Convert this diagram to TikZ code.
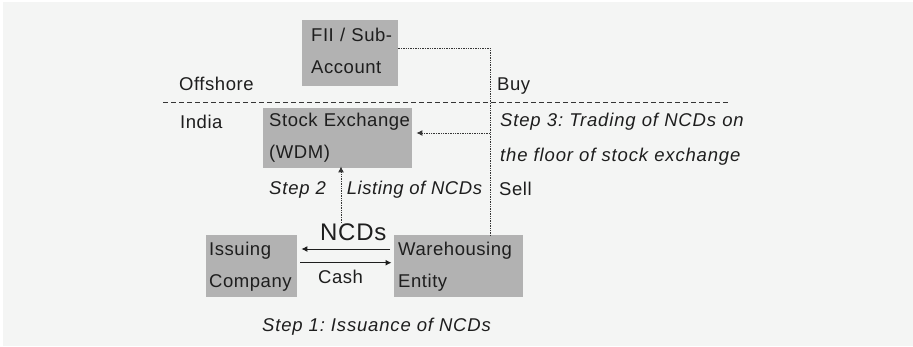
\documentclass[tikz,border=0pt]{standalone}
\usepackage{fontspec}
\setmainfont{Liberation Sans}[LetterSpace=3]
\usetikzlibrary{arrows.meta}
\definecolor{bg}{HTML}{F4F5F4}
\definecolor{boxgray}{HTML}{B2B2B2}
\definecolor{ink}{HTML}{1E1E1E}
\frenchspacing
\begin{document}
\begin{tikzpicture}[x=1pt,y=-1pt,
  txt/.style={inner sep=0pt, anchor=base west, text=ink, font=\fontsize{18.5}{32}\selectfont},
  itxt/.style={txt, font=\fontsize{18.5}{35}\selectfont\itshape\addfontfeature{LetterSpace=4.5}},
  box/.style={fill=boxgray, anchor=north west, inner ysep=0pt, align=left, text=ink, font=\fontsize{18.5}{32}\selectfont},
  dotline/.style={draw=ink!90, line width=1pt, dash pattern=on 1.4pt off 1pt},
  dashline/.style={draw=ink!90, line width=1pt, dash pattern=on 5pt off 3pt},
  solidline/.style={draw=ink, line width=1pt},
  tip/.style={-{Latex[length=6pt,width=6pt]}},
]
\useasboundingbox (0,0) rectangle (913,346);
\fill[bg] (3,2) rectangle (913,346);

% boxes
\node[box, inner xsep=9pt, text width=78pt, text height=21.7pt, text depth=44.3pt] (fii) at (302,20) {\mbox{FII / Sub-}\\\mbox{Account}};
\node[box, inner xsep=6pt, text width=137pt, text height=18pt, text depth=42pt] (se) at (263,108) {\mbox{Stock Exchange}\\\mbox{(WDM)}};
\node[box, inner xsep=3pt, text width=85pt, text height=20pt, text depth=42pt] (ic) at (206,235) {\mbox{Issuing}\\\mbox{Company}};
\node[box, inner xsep=4pt, text width=121pt, text height=20pt, text depth=42pt] (wh) at (394,235) {\mbox{Warehousing}\\\mbox{Entity}};

% texts
\node[txt] (off) at (179,90.7) {Offshore};
\node[txt] (buy) at (497,90.7) {Buy};
\node[txt] (ind) at (180,128) {India};
\node[itxt, text width=270pt, align=left] (s3) at (500,126.7) {\mbox{Step 3: Trading of NCDs on}\\\mbox{the floor of stock exchange}};
\node[txt] (sell) at (499,195) {Sell};
\node[itxt] (s2) at (269,194) {Step 2};
\node[itxt, font=\fontsize{18.5}{35}\selectfont\itshape] (lst) at (346.7,194) {Listing of NCDs};
\node[txt, font=\fontsize{24}{28}\selectfont] (ncds) at (320,240) {NCDs};
\node[txt] (cash) at (318,283) {Cash};
\node[itxt] (s1) at (262,331.7) {Step 1: Issuance of NCDs};

% dashed border line
\coordinate (dl) at (163,102);
\coordinate (dr) at (730,102);
\draw[dashline] (dl) -- (dr);

% connectors
\coordinate (bend) at (490,48);
\coordinate (join) at (490,133);
\draw[dotline] (fii.east |- bend) -- (bend) -- (bend |- wh.north);
\draw[dotline, tip, shorten >=4pt] (join) -- (se.east |- join);
\coordinate (lcol) at (341,200);
\draw[dotline, tip, shorten >=-2pt] (ncds.north -| lcol) -- (se.south -| lcol);
\coordinate (ya) at (0,249);
\coordinate (yb) at (0,262.7);
\draw[solidline, tip, shorten <=4pt, shorten >=4pt] (wh.west |- ya) -- (ic.east |- ya);
\draw[solidline, tip, shorten <=3pt, shorten >=2.5pt] (ic.east |- yb) -- (wh.west |- yb);
\end{tikzpicture}
\end{document}
